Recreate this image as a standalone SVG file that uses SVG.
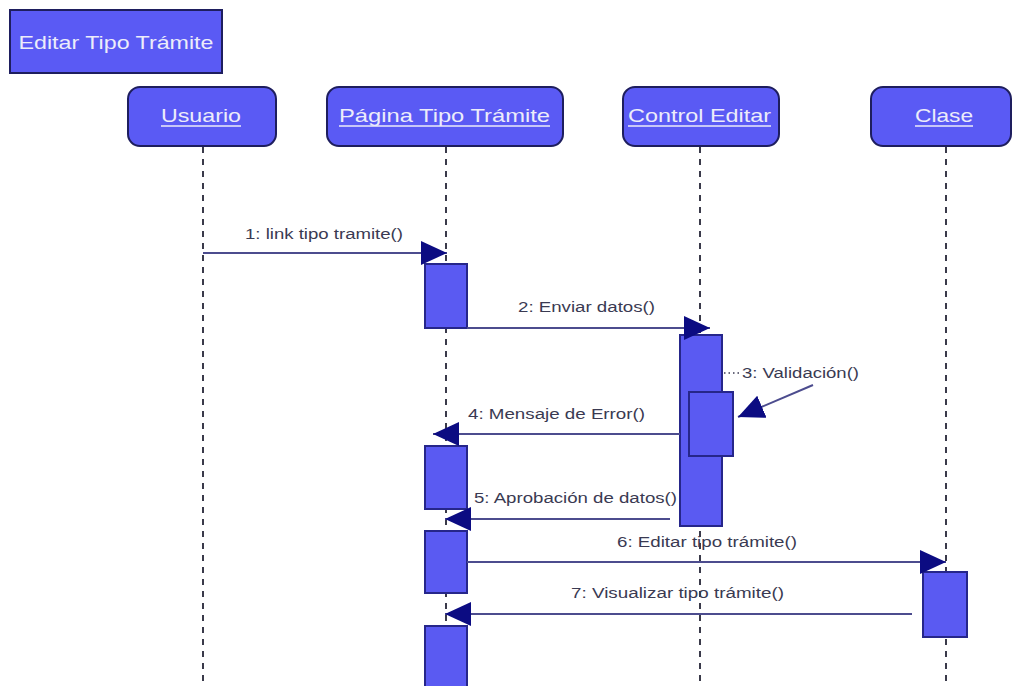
<svg xmlns="http://www.w3.org/2000/svg" width="1012" height="686" viewBox="0 0 1012 686">
  <style>
    .box { fill: #5a5af4; stroke: #1e1e5e; stroke-width: 2; }
    .head { font-family: "Liberation Sans", Arial, sans-serif; font-size: 19px; fill: #ececfa; text-anchor: middle; }
    .uline { stroke: #ececfa; stroke-width: 1.3; }
    .life { stroke: #3a3a4a; stroke-width: 2; stroke-dasharray: 6 6; fill: none; }
    .act { fill: #5a5af2; stroke: #26268a; stroke-width: 2; }
    .msg { stroke: #4c4c8e; stroke-width: 2; fill: none; }
    .lbl { font-family: "Liberation Sans", Arial, sans-serif; font-size: 14px; fill: #3a3a52; }
  </style>
  <defs>
    <marker id="head" markerUnits="userSpaceOnUse" markerWidth="27" markerHeight="24" refX="26" refY="12" orient="auto">
      <path d="M0,0 L26,12 L0,24 Z" fill="#0c0c82"/>
    </marker>
  </defs>
  <rect width="1012" height="686" fill="#ffffff"/>

  <!-- diagram frame title -->
  <g id="title">
    <rect x="10" y="10" width="212" height="63" fill="#5a5af4" stroke="#1e1e5e" stroke-width="2"/>
    <text x="116" y="49" class="head" font-size="20" textLength="195" lengthAdjust="spacingAndGlyphs">Editar Tipo Trámite</text>
  </g>

  <!-- lifelines -->
  <g id="lifelines">
    <line class="life" x1="203" y1="147" x2="203" y2="686"/>
    <line class="life" x1="446" y1="147" x2="446" y2="686"/>
    <line class="life" x1="700" y1="147" x2="700" y2="686"/>
    <line class="life" x1="946" y1="147" x2="946" y2="686"/>
  </g>

  <!-- participants -->
  <g id="usuario">
    <rect class="box" x="128" y="87" width="148" height="59" rx="12"/>
    <text class="head" x="201" y="122" textLength="80" lengthAdjust="spacingAndGlyphs">Usuario</text>
    <line class="uline" x1="161" y1="126" x2="241" y2="126"/>
  </g>
  <g id="pagina">
    <rect class="box" x="327" y="87" width="236" height="59" rx="12"/>
    <text class="head" x="444.5" y="122" textLength="211" lengthAdjust="spacingAndGlyphs">Página Tipo Trámite</text>
    <line class="uline" x1="339" y1="126" x2="550" y2="126"/>
  </g>
  <g id="control">
    <rect class="box" x="623" y="87" width="156" height="59" rx="12"/>
    <text class="head" x="699.5" y="122" textLength="143" lengthAdjust="spacingAndGlyphs">Control Editar</text>
    <line class="uline" x1="628" y1="126" x2="771" y2="126"/>
  </g>
  <g id="clase">
    <rect class="box" x="871" y="87" width="140" height="59" rx="12"/>
    <text class="head" x="944" y="122" textLength="58" lengthAdjust="spacingAndGlyphs">Clase</text>
    <line class="uline" x1="915" y1="126" x2="973" y2="126"/>
  </g>

  <!-- activation bars -->
  <g id="activations">
    <rect class="act" x="425" y="264" width="42" height="64"/>
    <rect class="act" x="425" y="446" width="42" height="63"/>
    <rect class="act" x="425" y="531" width="42" height="62"/>
    <rect class="act" x="425" y="626" width="42" height="62"/>
    <rect class="act" x="680" y="335" width="42" height="191"/>
    <rect class="act" x="689" y="392" width="44" height="64"/>
    <rect class="act" x="923" y="572" width="44" height="65"/>
  </g>

  <!-- messages -->
  <g id="connectors">
    <line class="msg" x1="203" y1="253" x2="447" y2="253" marker-end="url(#head)"/>
    <line class="msg" x1="467" y1="328" x2="710" y2="328" marker-end="url(#head)"/>
    <line x1="724" y1="373" x2="741" y2="373" stroke="#3a3a52" stroke-width="1.5" stroke-dasharray="1.5 3"/>
    <line class="msg" x1="813" y1="385" x2="738" y2="417" marker-end="url(#head)"/>
    <line class="msg" x1="680" y1="434" x2="433" y2="434" marker-end="url(#head)"/>
    <line class="msg" x1="670" y1="519" x2="445" y2="519" marker-end="url(#head)"/>
    <line class="msg" x1="467" y1="562" x2="946" y2="562" marker-end="url(#head)"/>
    <line class="msg" x1="912" y1="614" x2="445" y2="614" marker-end="url(#head)"/>
  </g>

  <!-- message labels -->
  <g id="labels">
    <text class="lbl" x="245" y="239" textLength="158" lengthAdjust="spacingAndGlyphs">1: link tipo tramite()</text>
    <text class="lbl" x="518" y="312" textLength="137" lengthAdjust="spacingAndGlyphs">2: Enviar datos()</text>
    <text class="lbl" x="742" y="378" textLength="117" lengthAdjust="spacingAndGlyphs">3: Validación()</text>
    <text class="lbl" x="468" y="419" textLength="177" lengthAdjust="spacingAndGlyphs">4: Mensaje de Error()</text>
    <text class="lbl" x="474" y="503" textLength="203" lengthAdjust="spacingAndGlyphs">5: Aprobación de datos()</text>
    <text class="lbl" x="617" y="547" textLength="180" lengthAdjust="spacingAndGlyphs">6: Editar tipo trámite()</text>
    <text class="lbl" x="571" y="598" textLength="213" lengthAdjust="spacingAndGlyphs">7: Visualizar tipo trámite()</text>
  </g>
</svg>
